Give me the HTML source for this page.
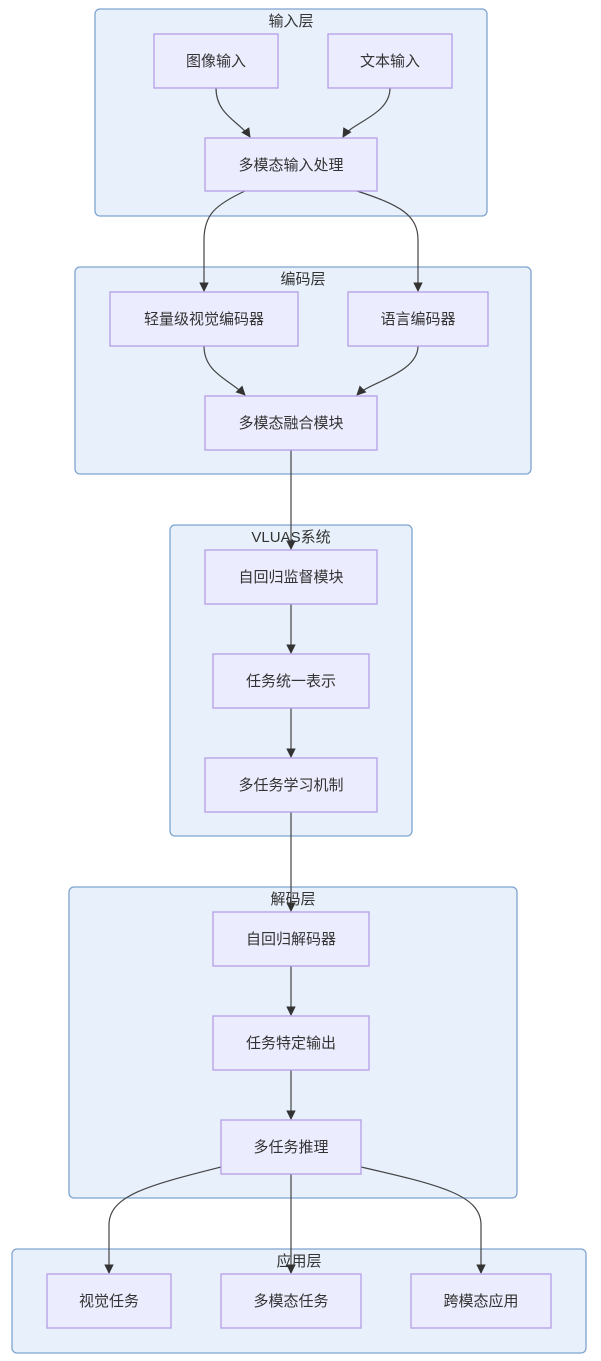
<!DOCTYPE html>
<html><head><meta charset="utf-8"><style>
html,body{margin:0;padding:0;background:#fff;}
svg{display:block;}
text{font-family:"Liberation Sans","Noto Sans CJK SC",sans-serif;font-size:15px;fill:#333;}
.sg{fill:#e8f1fb;stroke:#7fa4d0;stroke-width:1.3;}
.nd{fill:#ececff;stroke:#b49ee4;stroke-width:1.3;}
.e{fill:none;stroke:#444;stroke-width:1.2;}
</style></head><body>
<svg width="601" height="1361" viewBox="0 0 601 1361" xmlns="http://www.w3.org/2000/svg">
<defs><marker id="a" viewBox="0 0 10 10" refX="9" refY="5" markerWidth="8" markerHeight="8" orient="auto"><path d="M0,0L10,5L0,10z" fill="#333"/></marker></defs>
<rect class="sg" x="95" y="9" width="392" height="207" rx="5"/>
<text x="291" y="26" text-anchor="middle">输入层</text>
<rect class="sg" x="75" y="267" width="456" height="207" rx="5"/>
<text x="303" y="284" text-anchor="middle">编码层</text>
<rect class="sg" x="170" y="525" width="242" height="311" rx="5"/>
<text x="291" y="542" text-anchor="middle">VLUAS系统</text>
<rect class="sg" x="69" y="887" width="448" height="311" rx="5"/>
<text x="293" y="904" text-anchor="middle">解码层</text>
<rect class="sg" x="12" y="1249" width="574" height="104" rx="5"/>
<text x="299" y="1266" text-anchor="middle">应用层</text>

<g>
<path class="e" marker-end="url(#a)" d="M216,88 C216,115 240,122 250,137"/>
<path class="e" marker-end="url(#a)" d="M390,88 C390,115 352,122 343,137"/>
<path class="e" marker-end="url(#a)" d="M245,191 C215,205 204,215 204,240 L204,291"/>
<path class="e" marker-end="url(#a)" d="M357,191 C400,205 418,215 418,240 L418,291"/>
<path class="e" marker-end="url(#a)" d="M204,346 C204,373 230,380 245,395"/>
<path class="e" marker-end="url(#a)" d="M418,346 C418,373 370,382 357,395"/>
<path class="e" marker-end="url(#a)" d="M291,450 L291,549"/>
<path class="e" marker-end="url(#a)" d="M291,604 L291,653"/>
<path class="e" marker-end="url(#a)" d="M291,708 L291,757"/>
<path class="e" marker-end="url(#a)" d="M291,812 L291,911"/>
<path class="e" marker-end="url(#a)" d="M291,966 L291,1015"/>
<path class="e" marker-end="url(#a)" d="M291,1070 L291,1119"/>
<path class="e" marker-end="url(#a)" d="M221,1167 C150,1185 109,1195 109,1225 L109,1273"/>
<path class="e" marker-end="url(#a)" d="M291,1174 L291,1273"/>
<path class="e" marker-end="url(#a)" d="M361,1167 C440,1185 481,1195 481,1225 L481,1273"/>
</g>

<rect class="nd" x="154" y="34" width="124" height="54"/><text x="216" y="66" text-anchor="middle">图像输入</text>
<rect class="nd" x="328" y="34" width="124" height="54"/><text x="390" y="66" text-anchor="middle">文本输入</text>
<rect class="nd" x="205" y="138" width="172" height="53"/><text x="291" y="170" text-anchor="middle">多模态输入处理</text>
<rect class="nd" x="110" y="292" width="188" height="54"/><text x="204" y="324" text-anchor="middle">轻量级视觉编码器</text>
<rect class="nd" x="348" y="292" width="140" height="54"/><text x="418" y="324" text-anchor="middle">语言编码器</text>
<rect class="nd" x="205" y="396" width="172" height="54"/><text x="291" y="428" text-anchor="middle">多模态融合模块</text>
<rect class="nd" x="205" y="550" width="172" height="54"/><text x="291" y="582" text-anchor="middle">自回归监督模块</text>
<rect class="nd" x="213" y="654" width="156" height="54"/><text x="291" y="686" text-anchor="middle">任务统一表示</text>
<rect class="nd" x="205" y="758" width="172" height="54"/><text x="291" y="790" text-anchor="middle">多任务学习机制</text>
<rect class="nd" x="213" y="912" width="156" height="54"/><text x="291" y="944" text-anchor="middle">自回归解码器</text>
<rect class="nd" x="213" y="1016" width="156" height="54"/><text x="291" y="1048" text-anchor="middle">任务特定输出</text>
<rect class="nd" x="221" y="1120" width="140" height="54"/><text x="291" y="1152" text-anchor="middle">多任务推理</text>
<rect class="nd" x="47" y="1274" width="124" height="54"/><text x="109" y="1306" text-anchor="middle">视觉任务</text>
<rect class="nd" x="221" y="1274" width="140" height="54"/><text x="291" y="1306" text-anchor="middle">多模态任务</text>
<rect class="nd" x="411" y="1274" width="140" height="54"/><text x="481" y="1306" text-anchor="middle">跨模态应用</text>
</svg>
</body></html>
